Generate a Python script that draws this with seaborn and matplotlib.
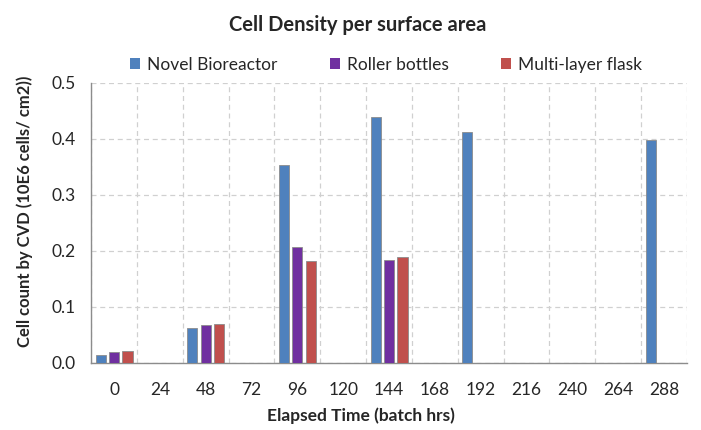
import matplotlib
matplotlib.use("Agg")
import matplotlib.pyplot as plt
import seaborn as sns
import numpy as np
import pandas as pd

times = ["0", "24", "48", "72", "96", "120", "144", "168", "192", "216", "240", "264", "288"]
novel = [0.015, np.nan, 0.062, np.nan, 0.354, np.nan, 0.440, np.nan, 0.412, np.nan, np.nan, np.nan, 0.399]
roller = [0.019, np.nan, 0.067, np.nan, 0.207, np.nan, 0.183, np.nan, np.nan, np.nan, np.nan, np.nan, np.nan]
multi = [0.021, np.nan, 0.070, np.nan, 0.182, np.nan, 0.190, np.nan, np.nan, np.nan, np.nan, np.nan, np.nan]
series = ["Novel Bioreactor", "Roller bottles", "Multi-layer flask"]
colors = ["#4F81BD", "#7030A0", "#C0504D"]
yticks = [0.0, 0.1, 0.2, 0.3, 0.4, 0.5]

rows = []
for name, vals in zip(series, [novel, roller, multi]):
    for t, v in zip(times, vals):
        rows.append({"time": t, "series": name, "value": v})
df = pd.DataFrame(rows)

sns.set_style("white")
plt.rcParams["font.family"] = ["Lato", "DejaVu Sans"]

fig = plt.figure(figsize=(7.01, 4.30), dpi=100)
ax = fig.add_axes([0.130, 0.156, 0.850, 0.651])

sns.barplot(data=df, x="time", y="value", hue="series", order=times, hue_order=series,
            palette=colors, saturation=1, width=0.88, gap=0.25, edgecolor="#8c8c8c",
            linewidth=0.6, errorbar=None, ax=ax, legend=True, zorder=3)

ax.set_xlim(-0.5, len(times) - 0.5)
ax.set_ylim(0, 0.5)
ax.set_yticks(yticks)
ax.set_yticklabels([f"{v:.1f}" for v in yticks])

# category labels at centres, ticks at boundaries
ax.set_xticks(np.arange(len(times)), minor=True)
ax.set_xticklabels(times, minor=True)
ax.set_xticks(np.arange(len(times) + 1) - 0.5)
ax.set_xticklabels([])
ax.tick_params(axis="x", which="minor", length=0, pad=14, labelsize=12.5)
ax.tick_params(axis="x", which="major", length=5, width=1, color="#808080", direction="out")
ax.tick_params(axis="y", length=5, width=1, color="#808080", direction="out", pad=6, labelsize=12.5)

ax.grid(True, which="major", axis="both", linestyle=(0, (4, 3)), color="#d0d0d0", linewidth=0.9, zorder=0)
ax.set_axisbelow(True)

for s in ["top", "right"]:
    ax.spines[s].set_visible(False)
for s in ["left", "bottom"]:
    ax.spines[s].set_color("#8c8c8c")
    ax.spines[s].set_linewidth(1.0)

ax.set_xlabel("Elapsed Time (batch hrs)", fontsize=12.5, fontweight="bold")
ax.xaxis.set_label_coords(0.453, -0.16)
ax.set_ylabel("Cell count by CVD (10E6 cells/ cm2))", fontsize=12, fontweight="bold")
ax.yaxis.set_label_coords(-0.097, 0.54)

fig.suptitle("Cell Density per surface area", fontsize=14.5, fontweight="bold", x=0.51, y=0.966)

leg = ax.legend(loc="center", bbox_to_anchor=(0.495, 1.065), ncol=3, frameon=False,
                fontsize=12.5, handlelength=0.6, handleheight=0.6, handletextpad=0.4,
                columnspacing=3.0)
for h in leg.legend_handles:
    h.set_edgecolor("none")

fig.savefig("out.png", dpi=100)
